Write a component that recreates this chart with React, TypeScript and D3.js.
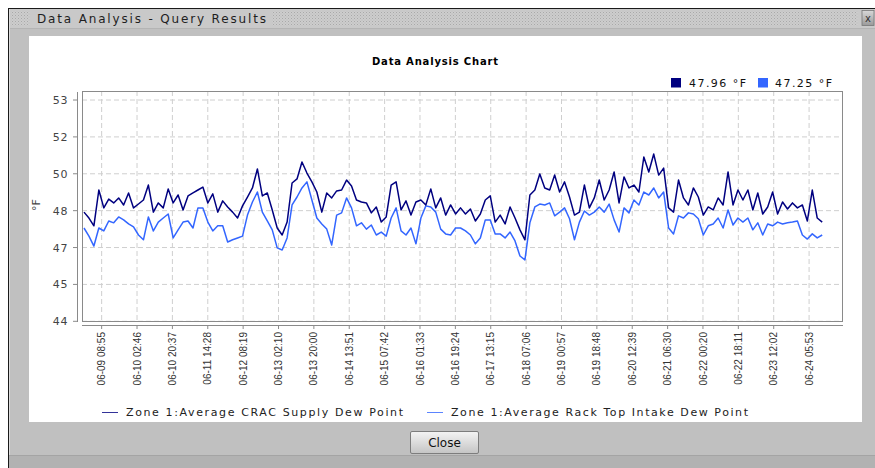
import React from 'react';
import * as d3 from 'd3';

const WINDOW_TITLE = 'Data Analysis - Query Results';
const CHART_TITLE = 'Data Analysis Chart';
const Y_LABEL = '°F';
const START_TIME = '2011-06-09 00:00';
const STEP_HOURS = 2.5;
const X_DOMAIN = ['2011-06-08 23:00', '2011-06-24 23:00'];

const seriesNames = ['Zone 1:Average CRAC Supply Dew Point', 'Zone 1:Average Rack Top Intake Dew Point'];
const legendValues = ['47.96 °F', '47.25 °F'];
const seriesColors = ['#000080', '#3366ff'];

const supplyDew = [
  47.96, 47.80, 47.59, 49.12, 48.15, 48.63, 48.42, 48.69, 48.31, 48.96,
  48.15, 48.36, 48.58, 49.39, 47.96, 48.42, 48.15, 49.18, 48.42, 48.85,
  48.04, 48.80, 48.96, 49.12, 49.28, 48.42, 48.91, 47.96, 48.53, 48.20,
  47.96, 47.80, 48.26, 48.74, 49.23, 50.26, 48.80, 48.96, 48.04, 47.53,
  47.34, 47.69, 49.50, 49.72, 50.64, 50.04, 49.56, 49.01, 47.96, 48.96,
  48.69, 49.07, 49.12, 49.66, 49.34, 48.58, 48.47, 48.42, 47.94, 48.20,
  47.69, 47.83, 49.39, 49.56, 48.04, 48.53, 47.88, 48.47, 48.58, 48.31,
  49.18, 48.15, 48.69, 47.88, 48.31, 47.91, 48.15, 47.91, 48.09, 47.72,
  47.91, 48.58, 48.80, 47.69, 47.88, 47.64, 48.20, 47.80, 47.48, 47.21,
  48.85, 49.12, 49.99, 49.23, 49.12, 49.93, 49.01, 49.56, 48.74, 47.88,
  47.96, 49.39, 48.15, 48.69, 49.66, 48.58, 49.12, 50.10, 48.42, 49.83,
  49.23, 49.39, 49.01, 50.91, 50.10, 51.07, 49.93, 50.31, 48.15, 47.96,
  49.66, 48.69, 48.31, 49.23, 48.74, 47.88, 48.20, 48.04, 48.69, 48.31,
  50.10, 48.31, 49.12, 48.58, 49.12, 48.04, 48.96, 47.91, 48.20, 49.01,
  47.91, 48.47, 48.09, 48.42, 48.15, 48.31, 47.72, 49.12, 47.80, 47.69,
];

const rackDew = [
  47.53, 47.31, 47.04, 47.53, 47.45, 47.72, 47.67, 47.83, 47.75, 47.64,
  47.56, 47.34, 47.21, 47.83, 47.45, 47.69, 47.80, 47.91, 47.26, 47.48,
  47.69, 47.72, 47.53, 48.15, 48.15, 47.69, 47.45, 47.59, 47.59, 47.15,
  47.21, 47.26, 47.31, 47.88, 48.47, 49.01, 47.96, 47.72, 47.48, 46.98,
  46.87, 47.26, 48.31, 48.74, 49.23, 49.56, 48.58, 47.80, 47.64, 47.50,
  47.07, 47.88, 47.94, 48.69, 48.15, 47.59, 47.67, 47.50, 47.61, 47.34,
  47.42, 47.31, 47.80, 48.15, 47.45, 47.34, 47.53, 47.10, 47.80, 48.26,
  48.20, 47.96, 47.50, 47.37, 47.34, 47.53, 47.53, 47.45, 47.34, 47.10,
  47.26, 47.75, 47.75, 47.37, 47.37, 47.26, 47.42, 47.18, 46.54, 46.33,
  47.67, 48.20, 48.36, 48.31, 48.42, 47.86, 47.96, 48.15, 47.78, 47.21,
  47.69, 47.99, 47.88, 47.96, 48.20, 47.96, 48.36, 47.75, 47.42, 48.15,
  47.94, 48.58, 48.31, 49.01, 48.85, 49.23, 48.69, 49.01, 47.53, 47.37,
  47.86, 47.80, 47.94, 47.91, 47.78, 47.34, 47.59, 47.64, 47.80, 47.53,
  48.04, 47.61, 47.80, 47.69, 47.80, 47.48, 47.67, 47.34, 47.64, 47.59,
  47.69, 47.64, 47.67, 47.69, 47.72, 47.34, 47.23, 47.37, 47.26, 47.34,
];

const xTickLabels = [
  '06-09 08:55', '06-10 02:46', '06-10 20:37', '06-11 14:28', '06-12 08:19',
  '06-13 02:10', '06-13 20:00', '06-14 13:51', '06-15 07:42', '06-16 01:33',
  '06-16 19:24', '06-17 13:15', '06-18 07:06', '06-19 00:57', '06-19 18:48',
  '06-20 12:39', '06-21 06:30', '06-22 00:20', '06-22 18:11', '06-23 12:02',
  '06-24 05:53',
];

const yTickValues = [44, 45, 47, 48, 50, 52, 53];

const parse = d3.timeParse('%Y-%m-%d %H:%M');
const SANS = 'DejaVu Sans, Verdana, sans-serif';
const ARIAL = 'Liberation Sans, Arial, sans-serif';

export default function App() {
  const W = 875, H = 468;
  const plot = { left: 82, right: 843, top: 91, bottom: 322 };
  const yAxisX = 77;
  const xAxisY = 325;

  const x = d3.scaleTime()
    .domain([parse(X_DOMAIN[0])!, parse(X_DOMAIN[1])!])
    .range([plot.left, plot.right]);

  const yBottom = 321.3, yStep = 36.88;
  const y = d3.scaleLinear()
    .domain(yTickValues)
    .range(yTickValues.map((_, i) => yBottom - i * yStep));

  const t0 = parse(START_TIME)!;
  const timeAt = (i: number) => d3.timeMinute.offset(t0, Math.round(i * STEP_HOURS * 60));

  const line = d3.line<number>()
    .x((_, i) => x(timeAt(i)))
    .y((d) => y(d))
    .curve(d3.curveLinear);

  const xTicks = xTickLabels.map((l) => ({ label: l, t: parse('2011-' + l)! }));

  const series = [
    { name: seriesNames[0], values: supplyDew, color: seriesColors[0] },
    { name: seriesNames[1], values: rackDew, color: seriesColors[1] },
  ];

  return (
    <svg width={W} height={H} style={{ position: 'absolute', left: 0, top: 0 }} xmlns="http://www.w3.org/2000/svg">
      <defs>
        <pattern id="dots" width="3" height="3" patternUnits="userSpaceOnUse">
          <rect width="3" height="3" fill="#cdcdcd" />
          <rect width="1" height="1" fill="#a9a9a9" />
          <rect x="1.5" y="1.5" width="1" height="1" fill="#b8b8b8" />
        </pattern>
        <linearGradient id="btn" x1="0" y1="0" x2="0" y2="1">
          <stop offset="0" stopColor="#f4f4f4" />
          <stop offset="1" stopColor="#c4c4c4" />
        </linearGradient>
        <linearGradient id="xbtn" x1="0" y1="0" x2="0" y2="1">
          <stop offset="0" stopColor="#d8d8d8" />
          <stop offset="1" stopColor="#9a9a9a" />
        </linearGradient>
        <clipPath id="plotClip">
          <rect x={plot.left} y={plot.top} width={plot.right - plot.left} height={plot.bottom - plot.top} />
        </clipPath>
      </defs>

      {/* page */}
      <rect x={0} y={0} width={W} height={H} fill="#ffffff" />
      {/* window body */}
      <rect x={8} y={8} width={W - 8} height={H - 8} fill="#c0c0c0" />
      {/* title bar */}
      <rect x={9} y={9} width={W - 9} height={19} fill="#c9c9c9" />
      <rect x={11} y={11} width={19} height={15} fill="url(#dots)" />
      <rect x={272} y={11} width={586} height={15} fill="url(#dots)" />
      <text x={37} y={23} fontFamily={SANS} fontSize={12} fill="#1e1e1e" textLength={229} lengthAdjust="spacing">{WINDOW_TITLE}</text>
      <rect x={862} y={10.5} width={12} height={15} fill="url(#xbtn)" stroke="#777" strokeWidth={0.8} />
      <text x={868} y={22} fontFamily={SANS} fontSize={10} fill="#333" textAnchor="middle">x</text>
      <line x1={8} y1={28.5} x2={W} y2={28.5} stroke="#b4b4b4" />
      {/* window border */}
      <line x1={8} y1={8.5} x2={W} y2={8.5} stroke="#1a1a1a" />
      <line x1={8.5} y1={8} x2={8.5} y2={H} stroke="#1a1a1a" />
      <line x1={9.5} y1={9} x2={9.5} y2={H} stroke="#dcdcdc" />
      {/* bottom strip */}
      <rect x={9} y={455} width={W - 9} height={13} fill="#b2b2b2" />
      <line x1={9} y1={455.5} x2={W} y2={455.5} stroke="#a4a4a4" />

      {/* white content panel */}
      <rect x={29} y={36} width={833} height={386} fill="#ffffff" />

      {/* chart title */}
      <text x={435} y={65} textAnchor="middle" fontFamily={SANS} fontWeight="bold" fontSize={10} fill="#000" textLength={126} lengthAdjust="spacing">{CHART_TITLE}</text>

      {/* top legend */}
      {series.map((s, i) => (
        <g key={'tl' + i}>
          <rect x={671 + i * 87} y={78} width={10} height={9.5} fill={s.color} />
          <text x={689 + i * 86} y={87} fontFamily={SANS} fontSize={11} fill="#111" textLength={57} lengthAdjust="spacing">{legendValues[i]}</text>
        </g>
      ))}

      {/* plot background */}
      <rect x={plot.left} y={plot.top} width={plot.right - plot.left} height={plot.bottom - plot.top} fill="#ffffff" />

      {/* gridlines */}
      {yTickValues.map((v) => (
        <line key={'gy' + v} x1={plot.left} x2={plot.right} y1={y(v)} y2={y(v)} stroke="#cfcfcf" strokeWidth={1} strokeDasharray="5,3" />
      ))}
      {xTicks.map((t) => (
        <line key={'gx' + t.label} x1={x(t.t)} x2={x(t.t)} y1={plot.top} y2={plot.bottom} stroke="#cfcfcf" strokeWidth={1} strokeDasharray="5,3" />
      ))}

      {/* series */}
      <g clipPath="url(#plotClip)">
        {[...series].reverse().map((s) => (
          <path key={s.name} d={line(s.values) || ''} fill="none" stroke={s.color} strokeWidth={1.5} strokeLinejoin="round" />
        ))}
      </g>

      {/* plot border */}
      <rect x={plot.left + 0.5} y={plot.top + 0.5} width={plot.right - plot.left - 1} height={plot.bottom - plot.top - 1} fill="none" stroke="#8a8a8a" strokeWidth={1} />

      {/* y axis */}
      <line x1={yAxisX + 0.5} x2={yAxisX + 0.5} y1={plot.top + 1} y2={plot.bottom} stroke="#8a8a8a" />
      {yTickValues.map((v) => (
        <g key={'yt' + v}>
          <line x1={yAxisX - 4} x2={yAxisX} y1={y(v)} y2={y(v)} stroke="#8a8a8a" />
          <text x={68} y={y(v) + 4} textAnchor="end" fontFamily={SANS} fontSize={11} letterSpacing={0.6} fill="#444">{String(v)}</text>
        </g>
      ))}
      <text transform={`translate(40,205) rotate(-90)`} textAnchor="middle" fontFamily={SANS} fontSize={11} fill="#444">{Y_LABEL}</text>

      {/* x axis */}
      <line x1={plot.left} x2={plot.right} y1={xAxisY + 0.5} y2={xAxisY + 0.5} stroke="#8a8a8a" />
      {xTicks.map((t) => (
        <g key={'xt' + t.label}>
          <line x1={x(t.t)} x2={x(t.t)} y1={xAxisY} y2={xAxisY + 4} stroke="#8a8a8a" />
          <text transform={`translate(${x(t.t) + 3.6},${332}) rotate(-90)`} textAnchor="end" fontFamily={ARIAL} fontSize={10} fill="#333">{t.label}</text>
        </g>
      ))}

      {/* bottom legend */}
      {series.map((s, i) => {
        const lx = i === 0 ? 102 : 427;
        const widths = [277, 297];
        return (
          <g key={'bl' + i}>
            <line x1={lx} x2={lx + 16} y1={412.5} y2={412.5} stroke={s.color} strokeWidth={1} opacity={0.8} />
            <text x={lx + 24} y={416} fontFamily={SANS} fontSize={11} fill="#222" textLength={widths[i]} lengthAdjust="spacing">{s.name}</text>
          </g>
        );
      })}

      {/* close button */}
      <rect x={410.5} y={431.5} width={68} height={22} rx={1.5} fill="url(#btn)" stroke="#7d7d7d" />
      <text x={444.5} y={447} textAnchor="middle" fontFamily={SANS} fontSize={12} fill="#111">Close</text>
    </svg>
  );
}
